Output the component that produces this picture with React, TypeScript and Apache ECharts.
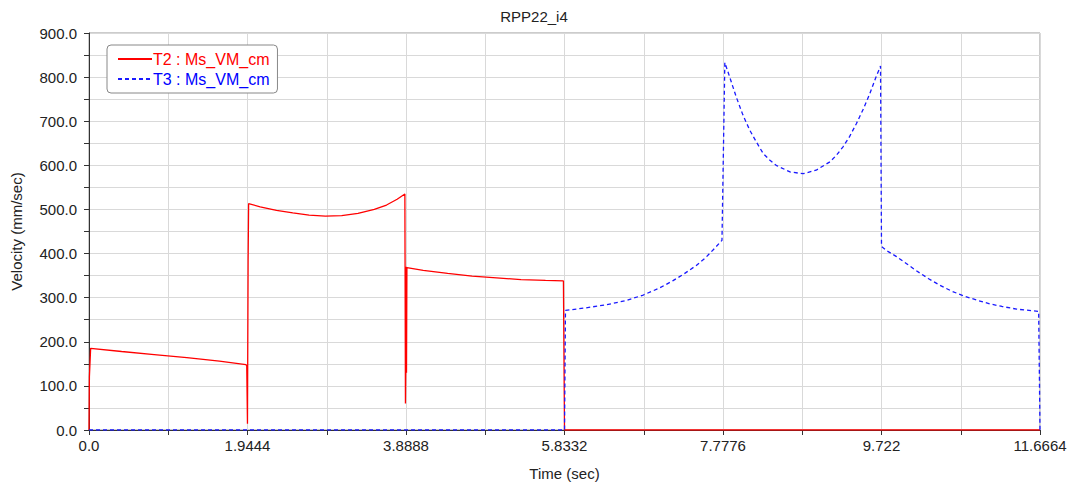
import React, { useEffect, useRef } from "react";
import * as echarts from "echarts";

const chartTitle = "RPP22_i4";
const seriesNames = ["T2 : Ms_VM_cm", "T3 : Ms_VM_cm"];
const xTickLabels = ["0.0", "1.9444", "3.8888", "5.8332", "7.7776", "9.722", "11.6664"];

const t2Time = [
  0, 0.005, 0.02, 0.4, 0.8, 1.2, 1.6, 1.925, 1.935, 1.944, 1.952, 1.958,
  2.1, 2.3, 2.5, 2.7, 2.9, 3.1, 3.3, 3.5, 3.65, 3.78, 3.875,
  3.882, 3.886, 3.89, 3.895, 3.9,
  4.1, 4.4, 4.7, 5.0, 5.3, 5.6, 5.82, 5.8332, 11.6664,
];
const t2Vel = [
  0, 120, 185, 178, 171, 164, 156, 148, 146, 14, 385, 513,
  506, 498, 492, 487, 485, 486, 491, 500, 510, 523, 535,
  60, 140, 370, 130, 368,
  362, 355, 349, 345, 341, 339, 338, 0, 0,
];

const t3Time = [
  0, 5.8332, 5.845, 6.1, 6.35, 6.6, 6.8, 7.0, 7.16, 7.3, 7.45, 7.56, 7.655, 7.765,
  7.8, 7.86, 7.94, 8.02, 8.105, 8.19, 8.27, 8.35, 8.43, 8.6, 8.76, 8.92, 9.09,
  9.17, 9.25, 9.33, 9.415, 9.5, 9.58, 9.65, 9.71, 9.722, 9.8, 9.906, 10.03,
  10.15, 10.3, 10.44, 10.58, 10.73, 10.9, 11.05, 11.2, 11.38, 11.65, 11.6664,
];
const t3Vel = [
  0, 0, 271, 277, 284, 294, 306, 322, 338, 354, 373, 390, 408, 430,
  833, 800, 755, 715, 680, 652, 627, 612, 600, 585, 581, 589, 608,
  623, 642, 665, 695, 728, 763, 798, 825, 416, 405, 393, 377,
  361, 343, 328, 315, 304, 294, 286, 280, 274, 269, 0,
];

const xStep = 0.9722;

export default function App() {
  const ref = useRef<HTMLDivElement>(null);
  useEffect(() => {
    if (!ref.current) return;
    const chart = echarts.init(ref.current, null, { renderer: "svg" });
    const font = "Liberation Sans, Arial, sans-serif";
    chart.setOption({
      animation: false,
      backgroundColor: "#ffffff",
      title: {
        text: chartTitle,
        left: "center",
        top: 4,
        textStyle: { fontFamily: font, fontSize: 15, fontWeight: "normal", color: "#222" },
      },
      legend: {
        orient: "vertical",
        left: 107,
        top: 45,
        padding: [6, 8, 6, 10],
        itemGap: 4,
        itemWidth: 34,
        itemHeight: 14,
        borderColor: "#888",
        borderWidth: 1,
        borderRadius: 4,
        backgroundColor: "#fff",
        itemStyle: { opacity: 0 },
        data: [
          { name: seriesNames[0], textStyle: { color: "#ff0000" } },
          { name: seriesNames[1], textStyle: { color: "#0000ff" } },
        ],
        textStyle: { fontFamily: font, fontSize: 16, padding: [0, 0, 0, -4] },
      },
      grid: {
        left: 89,
        right: 28,
        top: 33,
        bottom: 53,
        show: true,
        borderColor: "#999",
        borderWidth: 1,
        outerBoundsMode: "none",
        containLabel: false,
      },
      xAxis: {
        type: "value",
        min: 0,
        max: 11.6664,
        interval: xStep,
        name: "Time (sec)",
        nameLocation: "middle",
        nameGap: 36,
        nameTextStyle: { fontFamily: font, fontSize: 15, color: "#222" },
        axisLine: { show: true, onZero: false, lineStyle: { color: "#333" } },
        axisTick: { show: true, length: 5, lineStyle: { color: "#333" } },
        axisLabel: {
          fontFamily: font,
          fontSize: 15,
          color: "#222",
          margin: 8,
          showMinLabel: true,
          showMaxLabel: true,
          hideOverlap: false,
          formatter: (v: number) => {
            const i = Math.round(v / xStep);
            return i % 2 === 0 ? xTickLabels[i / 2] ?? "" : "";
          },
        },
        splitLine: { show: true, lineStyle: { color: "#d9d9d9" } },
      },
      yAxis: {
        type: "value",
        min: 0,
        max: 900,
        interval: 50,
        name: "Velocity (mm/sec)",
        nameLocation: "middle",
        nameRotate: 90,
        nameGap: 65,
        nameTextStyle: { fontFamily: font, fontSize: 15, color: "#222" },
        axisLine: { show: true, lineStyle: { color: "#333" } },
        axisTick: { show: true, length: 5, lineStyle: { color: "#333" } },
        axisLabel: {
          fontFamily: font,
          fontSize: 15,
          color: "#222",
          margin: 12,
          formatter: (v: number) => (Math.round(v) % 100 === 0 ? v.toFixed(1) : ""),
        },
        splitLine: { show: true, lineStyle: { color: "#d9d9d9" } },
      },
      series: [
        {
          name: seriesNames[0],
          type: "line",
          data: t2Time.map((t, i) => [t, t2Vel[i]]),
          symbol: "none",
          showSymbol: false,
          smooth: false,
          lineStyle: { color: "#ff0000", width: 1.3 },
          itemStyle: { color: "#ff0000" },
          z: 3,
        },
        {
          name: seriesNames[1],
          type: "line",
          data: t3Time.map((t, i) => [t, t3Vel[i]]),
          symbol: "none",
          showSymbol: false,
          smooth: false,
          lineStyle: { color: "#1a1aff", width: 1.3, type: [4, 3] },
          itemStyle: { color: "#1a1aff" },
          z: 4,
        },
      ],
    });
    return () => chart.dispose();
  }, []);
  return (
    <div
      ref={ref}
      style={{ position: "fixed", left: 0, top: 0, width: 1068, height: 483 }}
    />
  );
}
